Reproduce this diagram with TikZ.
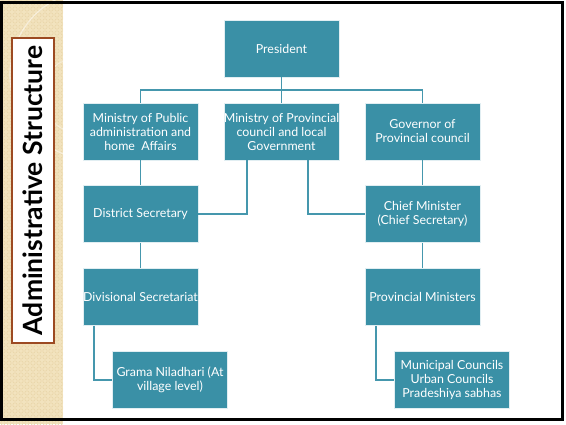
\documentclass[tikz,border=0pt]{standalone}
\usepackage{fontspec}
\setmainfont{Lato}
\usepackage{tikz}
\usetikzlibrary{positioning, calc}
\definecolor{boxteal}{HTML}{3A90A6}
\definecolor{lineteal}{HTML}{4597AD}
\definecolor{sidebeige}{HTML}{F2E3BE}
\definecolor{ringbeige}{HTML}{E8D5A8}
\definecolor{titlebrown}{HTML}{9C4A22}
\tikzset{
    office/.style = {rectangle, draw=white!85!boxteal, fill=boxteal, text=white, line width=0.6pt,
                        minimum width=115pt, minimum height=57pt, inner sep=0pt, align=center},
    link/.style = {draw=lineteal, line width=1.8pt}
}

\begin{document}
\begin{tikzpicture}[x=1pt, y=-1pt]
			\tikzstyle{every node}=[font=\fontsize{12.4}{14}\selectfont]
			\useasboundingbox (0,0) rectangle (566,424);
			\fill[white] (0,0) rectangle (566,424);
			\fill[sidebeige] (0,0) rectangle (63,424);
			\begin{scope}
				\clip (0,0) rectangle (63,424);
				\foreach \i in {0,...,10} {
					\foreach \j in {0,...,70} {
						\draw[ringbeige, line width=0.5pt] (3+6*\i,3+6*\j) circle (2.2);
					}
				}
				\draw[white, opacity=0.5, line width=1.2pt] (95,75) circle (85);
				\draw[white, opacity=0.4, line width=1.2pt] (80,95) circle (38);
			\end{scope}
			\node (title) [draw=titlebrown, fill=white, line width=1.2pt, minimum width=305pt, minimum height=42pt,
				rotate=90, inner sep=0pt] at (33,190.5) {\fontsize{26.5}{28}\selectfont\bfseries Administrative Structure};
			\node (pres) [office] at (281.5,48.5) {President};
			\node (minpub) [office] at (140.5,131.5) {Ministry of Public\\administration and\\home\ \ Affairs};
			\node (minprov) [office] at (281.5,131.5) {Ministry of Provincial\\council and local\\Government};
			\node (gov) [office] at (422.5,131.5) {Governor of\\Provincial council};
			\node (dist) [office] at (140.5,214) {District Secretary};
			\node (chief) [office] at (422.5,214) {Chief Minister\\(Chief Secretary)};
			\node (divsec) [office] at (140.5,297) {Divisional Secretariat};
			\node (provmin) [office] at (422.5,297) {Provincial Ministers};
			\node (grama) [office] at (170,380) {Grama Niladhari (At\\village level)};
			\node (muni) [office] at (452,380) {Municipal Councils\\Urban Councils\\Pradeshiya sabhas};
			\coordinate (bus) at (281.5,90);
			\draw [link] (pres.south) -- (bus);
			\draw [link] (minpub.north) |- (bus) -| (gov.north);
			\draw [link] (bus) -- (minprov.north);
			\draw [link] (minpub) -- (dist);
			\draw [link] (dist) -- (divsec);
			\draw [link] (gov) -- (chief);
			\draw [link] (chief) -- (provmin);
			\draw [link] ([xshift=-34.5pt]minprov.south) |- (dist.east);
			\draw [link] ([xshift=26.5pt]minprov.south) |- (chief.west);
			\draw [link] ([xshift=-46.5pt]divsec.south) |- (grama.west);
			\draw [link] ([xshift=-46.5pt]provmin.south) |- (muni.west);
			\draw [line width=3pt] (1.5,2) rectangle (562,419);
		\end{tikzpicture}
\end{document}
